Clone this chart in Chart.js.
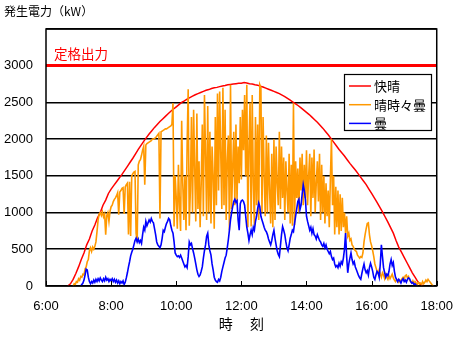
<!DOCTYPE html>
<html><head><meta charset="utf-8">
<script src="https://cdn.jsdelivr.net/npm/chart.js@4/dist/chart.umd.min.js"></script>
<style>html,body{margin:0;padding:0;background:#fff;}</style>
</head><body>
<canvas id="c" width="466" height="338"></canvas>
<script>
// ---- data ----
const seriesNames = ['快晴', '晴時々曇', '曇'];
const seriesColors = ['#ff0000', '#ff9900', '#0000ff'];
const yAxisTitle = '発生電力（kW）';
const xAxisTitle = '時　 刻';
const ratedLabel = '定格出力';
const ratedValue = 3000;
const xTickHours = [6, 8, 10, 12, 14, 16, 18];

// 快晴: start 6:40, every 5 min
const clearStart = 400, clearStep = 5;
const clearValues = [
  0,30,90,170,                                   // 6:40
  260,360,450,560,640,750,830,930,1000,1100,1170,1260,   // 7:00
  1320,1370,1420,1470,1520,1575,1630,1685,1740,1800,1860,1915, // 8:00
  1970,2020,2070,2115,2160,2200,2240,2275,2310,2345,2380,2410, // 9:00
  2440,2470,2500,2520,2545,2565,2585,2605,2620,2635,2650,2665, // 10:00
  2675,2690,2700,2705,2715,2725,2730,2740,2745,2750,2755,2760, // 11:00
  2760,2770,2765,2755,2750,2740,2735,2720,2710,2695,2680,2665, // 12:00
  2650,2635,2620,2600,2580,2555,2530,2505,2480,2455,2425,2395, // 13:00
  2365,2335,2300,2265,2230,2190,2150,2105,2060,2010,1960,1910, // 14:00
  1860,1815,1770,1720,1670,1625,1580,1530,1480,1430,1380,1320, // 15:00
  1260,1200,1140,1075,1010,940,870,795,720,620,530,460,        // 16:00
  390,320,250,180,120,60,20,0                                  // 17:00
];

// 晴時々曇: start 6:50, every 2 min
const partlyStart = 410, partlyStep = 2;
const partlyValues = [
  0,30,20,60,50,                                                        // 6:50
  100,80,130,120,160,150,230,260,330,360, 480,520,470,530,500,540,600,740,900,980, 1000,960,1010,940,980,700,960,1000,880,1020, // 7:00
  1080,1100,1150,1180,1200,1230,1270,970,1280,1300, 1330,1340,980,1350,1380,1400,700,1420,680,1500, 1530,1550,1560,720,600,1650,1700,1720,1780,1850, // 8:00
  1900,1380,1920,1940,1950,1960,1970,1980,2000,2000, 2010,2020,2040,2060,2080,920,2100,2110,2120,2130, 2140,2140,2150,2160,2170,2180,2200,2490,810,1500, // 9:00
  1200,780,1650,1100,750,2250,1400,900,1500,760, 1900,2680,820,1300,2300,1000,2400,1600,880,2350, 1050,1700,800,1400,2200,950,2600,1800,900,2450, // 10:00
  1000,2100,850,1900,1500,780,2300,1100,2620,1300, 2650,1800,1050,2700,1100,2400,900,1700,2050,760, 2740,1050,1600,2100,1100,2200,1150,1900,1400,2300, // 11:00
  1450,2400,1850,2600,1500,2740,800,1900,2500,810, 2600,1400,820,2300,1100,2200,900,2740,2700,1000, 2300,1500,950,2050,1000,1950,1300,850,1800,800, // 12:00
  2000,900,1900,1400,1100,2100,1050,1900,1200,1750, 900,1700,1300,1000,1800,850,1650,820,2490,830, 1700,1200,1600,1000,1750,1300,1800,1100,1650,1200, // 13:00
  1850,1100,1500,1800,950,1750,1200,1860,1000,1400, 1700,1150,1800,900,1650,1000,1500,850,1400,950, 1300,800,1450,2000,1100,1500,700,1350,800,1300, // 14:00
  700,1250,750,1200,800,1000,720,950,680,720, 620,640,560,540,500,480,470,420,400,380, 400,390,450,600,700,780,850,860,700,600, // 15:00
  550,480,400,300,250,200,170,220,160,120, 180,150,100,160,120,90,140,100,130,160, 110,80,60,90,70,50,80,60,100,120, // 16:00
  90,140,150,110,130,80,60,40,70,30, 60,40,20,50,30,40,20,60,30,50, 80,60,90,70,50,30,10,0 // 17:00
];

// 曇: start 7:04, every 2 min
const cloudyStart = 424, cloudyStep = 2;
const cloudyValues = [
  0,20,40,80,150,230,220,120,60,30, 60,40,80,50,90,60,100,70,110,80, 60,100,70,120,80,100,60,90, // 7:04
  70,100,60,90,50,80,40,70,30,60, 40,70,20,50,110,180,260,330,410,460, 500,560,620,650,600,640,590,620,580,700, // 8:00
  800,760,880,820,860,900,870,920,880,860, 780,700,600,560,540,520,560,650,760,740, 800,850,880,920,900,820,760,720,600,450, // 9:00
  420,400,410,390,420,380,340,300,260,280, 250,400,600,560,580,510,450,380,300,220, 160,130,150,200,260,380,480,560,680,720, // 10:00
  560,480,420,300,220,120,80,60,50,90, 70,120,200,260,320,380,420,520,630,760, 900,1000,1080,1150,1180,1140,1160,900,760,1120, // 11:00
  1160,1170,1150,1100,950,800,720,620,700,760, 700,800,760,880,950,1050,1130,1080,950,900, 850,800,760,740,700,640,600,560,620,700, // 12:00
  760,650,560,480,430,400,550,700,810,760, 700,600,520,480,560,650,700,760,740,850, 950,1050,1150,1180,1040,1100,1250,1380,1300,1180, // 13:00
  950,880,820,760,800,720,780,700,680,640, 700,660,620,600,560,540,580,520,560,500, 470,440,470,400,360,380,300,260,280,250, // 14:00
  310,270,330,300,380,500,720,400,180,300, 380,450,360,300,330,260,220,180,140,110, 90,170,240,300,220,180,210,150,250,310, // 15:00
  260,200,120,90,150,200,180,120,300,560, 400,250,180,120,160,140,200,300,360,280, 320,200,120,90,60,90,70,40,80,100, // 16:00
  60,80,50,90,110,100,60,40,50,20, 30,10,0 // 17:00
];

// ---- build ----
const toPoints = (start, step, vals) => vals.map((v, i) => ({ x: start + i * step, y: v }));
const JP = '"Noto Sans CJK JP", "Noto Sans", sans-serif';
const NUM = '"Liberation Sans", Arial, sans-serif';

const decor = {
  id: 'decor',
  afterDraw(chart) {
    const ctx = chart.ctx, a = chart.chartArea, xs = chart.scales.x, ys = chart.scales.y;
    ctx.save();
    // inner x tick marks
    ctx.strokeStyle = '#000'; ctx.lineWidth = 1;
    xTickHours.forEach(h => {
      const px = Math.round(xs.getPixelForValue(h * 60)) + 0.5;
      ctx.beginPath(); ctx.moveTo(px, a.bottom); ctx.lineTo(px, a.bottom - 5); ctx.stroke();
    });
    // frame
    ctx.lineWidth = 1.5;
    ctx.strokeRect(a.left, a.top, a.right - a.left, a.bottom - a.top);
    // y axis title
    ctx.fillStyle = '#000'; ctx.font = '12px ' + JP; ctx.textBaseline = 'middle'; ctx.textAlign = 'left';
    ctx.fillText(yAxisTitle, 4, 11);
    // x axis title
    ctx.font = '14px ' + JP; ctx.textAlign = 'center';
    ctx.fillText(xAxisTitle, (a.left + a.right) / 2, 324);
    // rated output label
    ctx.fillStyle = '#ff0000'; ctx.font = '13.5px ' + JP; ctx.textAlign = 'left';
    ctx.fillText(ratedLabel, a.left + 8, ys.getPixelForValue(ratedValue) - 12);
    // legend
    const lx = 344, ly = 74, lw = 87, lh = 56;
    ctx.fillStyle = '#fff'; ctx.fillRect(lx, ly, lw, lh);
    ctx.strokeStyle = '#000'; ctx.lineWidth = 1.2; ctx.strokeRect(lx + 0.5, ly + 0.5, lw, lh);
    ctx.font = '13px ' + JP;
    seriesNames.forEach((n, i) => {
      const yy = ly + 12 + i * 18.7;
      ctx.strokeStyle = seriesColors[i]; ctx.lineWidth = 1.5;
      ctx.beginPath(); ctx.moveTo(lx + 5, yy); ctx.lineTo(lx + 27, yy); ctx.stroke();
      ctx.fillStyle = '#000'; ctx.fillText(n, lx + 30, yy);
    });
    ctx.restore();
  }
};

new Chart(document.getElementById('c'), {
  type: 'line',
  data: {
    datasets: [
      { label: seriesNames[0], data: toPoints(clearStart, clearStep, clearValues), borderColor: seriesColors[0], borderWidth: 1.5, order: 3 },
      { label: seriesNames[1], data: toPoints(partlyStart, partlyStep, partlyValues), borderColor: seriesColors[1], borderWidth: 1.6, order: 2 },
      { label: seriesNames[2], data: toPoints(cloudyStart, cloudyStep, cloudyValues), borderColor: seriesColors[2], borderWidth: 1.6, order: 1 }
    ]
  },
  options: {
    responsive: false, devicePixelRatio: 1, animation: false,
    layout: { padding: { top: 29, right: 24, left: 0, bottom: 0 } },
    elements: { point: { radius: 0 }, line: { tension: 0, fill: false } },
    plugins: { legend: { display: false }, tooltip: { enabled: false } },
    scales: {
      x: {
        type: 'linear', min: 360, max: 1080,
        afterFit(s) { s.height = 52; },
        afterBuildTicks(s) { s.ticks = xTickHours.map(h => ({ value: h * 60 })); },
        grid: { display: false, drawTicks: false },
        border: { display: false },
        ticks: { color: '#000', font: { family: NUM, size: 13 }, padding: 13, maxRotation: 0,
          callback: v => (v / 60) + ':00' }
      },
      y: {
        min: 0, max: 3500,
        afterFit(s) { s.width = 46; },
        grid: { drawTicks: false,
          color: c => (c.tick && c.tick.value === ratedValue) ? '#ff0000' : '#000',
          lineWidth: c => (c.tick && c.tick.value === ratedValue) ? 3 : 1.6 },
        border: { display: false },
        ticks: { stepSize: 500, color: '#000', font: { family: NUM, size: 13 }, padding: 13,
          callback: v => v <= ratedValue ? String(v) : '' }
      }
    }
  },
  plugins: [decor]
});
</script>
</body></html>
